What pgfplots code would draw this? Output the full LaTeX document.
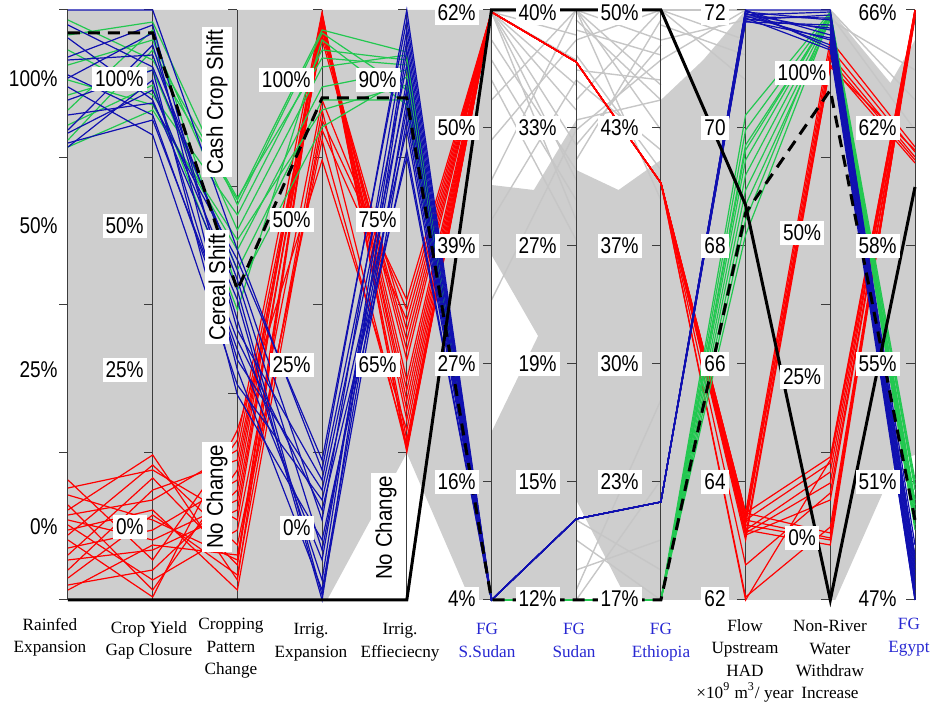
\documentclass[border=0pt]{standalone}
\usepackage{pgfplots}
\pgfplotsset{compat=1.18}
\usepackage{graphicx}
\usepackage{fontspec}
\setmainfont{Liberation Serif}
\newfontfamily\arialf{Liberation Sans}
\definecolor{bgray}{RGB}{206,206,206}
\definecolor{lgray}{RGB}{198,198,198}
\definecolor{pred}{RGB}{255,0,0}
\definecolor{pgreen}{RGB}{34,200,80}
\definecolor{pblue}{RGB}{16,16,176}
\definecolor{lblue}{RGB}{40,40,210}
\definecolor{axc}{RGB}{60,60,60}
\newcommand\tx[1]{\scalebox{1}[1.2]{#1}}
\newcommand\rx[1]{\scalebox{1.08}[1.2]{#1}}
\begin{document}
\begin{tikzpicture}[
  rl/.style={pred, line width=0.6pt},
  gl/.style={pgreen, line width=0.6pt},
  bl/.style={pblue, line width=0.6pt},
  gy/.style={lgray, line width=0.7pt},
  tk/.style={axc, line width=0.5pt},
  tl/.style={font=\arialf\fontsize{9.5}{11}\selectfont, fill=white, inner xsep=1.5pt, inner ysep=2pt, anchor=east},
  tc/.style={font=\arialf\fontsize{9.5}{11}\selectfont, fill=white, inner xsep=1.5pt, inner ysep=2pt},
  bt/.style={font=\fontsize{8.6}{11.2}\selectfont, align=center, anchor=north, inner sep=0pt},
]
\useasboundingbox (-34pt,-53pt) rectangle (432.5pt,300pt);
\begin{axis}[
  width=423.5pt, height=295pt, scale only axis,
  xmin=1, xmax=11, ymin=0, ymax=590,
  axis lines=none, clip=false,
]
% ---------- grey background of the many other solutions ----------
\addplot[fill=bgray, draw=none] coordinates {(1,0)(1,590)(5,590)(5,147)(4.06,0)};
\addplot[fill=bgray, draw=none] coordinates {(5,147)(5,590)(6,590)(6,0)(5.75,0)};
\addplot[fill=bgray, draw=none] coordinates {(6,0)(6,168)(6.55,264)(6,345)(6,415)(6.5,410)(7,480)(7,0)};
\addplot[fill=bgray, draw=none] coordinates {(7,100)(7,430)(7.5,410)(8,440)(8,0)(7.6,0)};
\addplot[fill=bgray, draw=none] coordinates {(8,0)(8,500)(8.5,540)(9,590)(9,0)};
\addplot[fill=bgray, draw=none] coordinates {(9,0)(9,590)(10,590)(10,0)};
\addplot[fill=bgray, draw=none] coordinates {(10,0)(10,590)(10.71,517)(11,560)(11,145)(10.79,140)(10.06,0)};
% grey lines in the sparse parts
\addplot[gy] coordinates {(6,588)(7,590)};
\addplot[gy] coordinates {(6,588)(7,565)};
\addplot[gy] coordinates {(6,588)(7,540)};
\addplot[gy] coordinates {(6,588)(7,515)};
\addplot[gy] coordinates {(6,588)(7,490)};
\addplot[gy] coordinates {(6,588)(7,455)};
\addplot[gy] coordinates {(6,588)(7,420)};
\addplot[gy] coordinates {(6,588)(7,380)};
\addplot[gy] coordinates {(6,560)(7,430)};
\addplot[gy] coordinates {(6,540)(7,400)};
\addplot[gy] coordinates {(6,500)(7,590)};
\addplot[gy] coordinates {(6,460)(7,560)};
\addplot[gy] coordinates {(6,420)(7,590)};
\addplot[gy] coordinates {(6,380)(7,520)};
\addplot[gy] coordinates {(6,300)(7,470)};
\addplot[gy] coordinates {(6,520)(7,360)};
\addplot[gy] coordinates {(7,590)(8,560)};
\addplot[gy] coordinates {(7,590)(8,470)};
\addplot[gy] coordinates {(7,560)(8,590)};
\addplot[gy] coordinates {(7,530)(8,520)};
\addplot[gy] coordinates {(7,500)(8,590)};
\addplot[gy] coordinates {(7,470)(8,540)};
\addplot[gy] coordinates {(7,440)(8,580)};
\addplot[gy] coordinates {(7,590)(8,400)};
\addplot[gy] coordinates {(7,520)(8,450)};
\addplot[gy] coordinates {(7,580)(8,500)};
\addplot[gy] coordinates {(7,545)(8,430)};
\addplot[gy] coordinates {(7,570)(8,545)};
\addplot[gy] coordinates {(7,480)(8,500)};
\addplot[gy] coordinates {(7,455)(8,555)};
\addplot[gy] coordinates {(7,590)(8,515)};
\addplot[gy] coordinates {(7,0)(8,120)};
\addplot[gy] coordinates {(7,30)(8,60)};
\addplot[gy] coordinates {(7,60)(8,0)};
\addplot[gy] coordinates {(7,10)(8,200)};
\addplot[gy] coordinates {(7,80)(8,30)};
\addplot[gy] coordinates {(8,590)(9,590)};
\addplot[gy] coordinates {(8,590)(9,560)};
\addplot[gy] coordinates {(8,560)(9,580)};
\addplot[gy] coordinates {(8,590)(9,520)};
\addplot[gy] coordinates {(8,540)(9,590)};
\addplot[gy] coordinates {(8,575)(9,545)};
\addplot[gy] coordinates {(10,590)(11,500)};
\addplot[gy] coordinates {(10,585)(11,470)};
\addplot[gy] coordinates {(10,580)(11,530)};
% ---------- axes ----------
\pgfplotsinvokeforeach{1,...,11}{\draw[tk] (axis cs:#1,0) -- (axis cs:#1,590);}
\pgfplotsinvokeforeach{1,2,4,5,10}{
  \draw[tk] (axis cs:#1,0) -- ++(-4.5pt,0pt) (axis cs:#1,147.5) -- ++(-4.5pt,0pt)
    (axis cs:#1,295) -- ++(-4.5pt,0pt) (axis cs:#1,442.5) -- ++(-4.5pt,0pt) (axis cs:#1,590) -- ++(-4.5pt,0pt);
}
\draw[tk] (axis cs:3,0) -- ++(-4.5pt,0pt) (axis cs:3,206) -- ++(-4.5pt,0pt)
  (axis cs:3,413) -- ++(-4.5pt,0pt) (axis cs:3,590) -- ++(-4.5pt,0pt);
\pgfplotsinvokeforeach{6,7,8,9,11}{
  \draw[tk] (axis cs:#1,0) -- ++(-4.5pt,0pt) (axis cs:#1,118) -- ++(-4.5pt,0pt)
    (axis cs:#1,236) -- ++(-4.5pt,0pt) (axis cs:#1,354) -- ++(-4.5pt,0pt)
    (axis cs:#1,472) -- ++(-4.5pt,0pt) (axis cs:#1,590) -- ++(-4.5pt,0pt);
}
% ---------- red solutions ----------
\addplot[rl] coordinates {(1,120)(2,40)(3,160)(4,588)(5,148)(6,588)(7,538)(8,417)(9,87)(10,143)(11,590)};
\addplot[rl] coordinates {(1,112)(2,130)(3,80)(4,585)(5,160)(6,588)(7,538)(8,417)(9,80)(10,137)(11,588)};
\addplot[rl] coordinates {(1,105)(2,80)(3,40)(4,580)(5,180)(6,588)(7,538)(8,417)(9,70)(10,128)(11,586)};
\addplot[rl] coordinates {(1,95)(2,10)(3,130)(4,575)(5,200)(6,588)(7,538)(8,417)(9,67)(10,117)(11,590)};
\addplot[rl] coordinates {(1,90)(2,145)(3,20)(4,582)(5,220)(6,588)(7,538)(8,417)(9,35)(10,107)(11,584)};
\addplot[rl] coordinates {(1,85)(2,100)(3,150)(4,570)(5,250)(6,588)(7,538)(8,417)(9,3)(10,73)(11,588)};
\addplot[rl] coordinates {(1,80)(2,60)(3,100)(4,565)(5,270)(6,588)(7,538)(8,417)(9,87)(10,67)(11,582)};
\addplot[rl] coordinates {(1,75)(2,20)(3,70)(4,500)(5,290)(6,588)(7,538)(8,417)(9,80)(10,62)(11,590)};
\addplot[rl] coordinates {(1,70)(2,90)(3,10)(4,480)(5,300)(6,588)(7,538)(8,417)(9,75)(10,60)(11,586)};
\addplot[rl] coordinates {(1,65)(2,135)(3,55)(4,460)(5,155)(6,588)(7,538)(8,417)(9,70)(10,55)(11,588)};
\addplot[rl] coordinates {(1,60)(2,3)(3,170)(4,440)(5,170)(6,588)(7,538)(8,417)(9,0)(10,140)(11,590)};
\addplot[rl] coordinates {(1,52)(2,70)(3,120)(4,586)(5,190)(6,588)(7,538)(8,417)(9,65)(10,100)(11,584)};
\addplot[rl] coordinates {(1,45)(2,122)(3,35)(4,578)(5,210)(6,588)(7,538)(8,417)(9,87)(10,560)(11,453)};
\addplot[rl] coordinates {(1,40)(2,50)(3,90)(4,572)(5,240)(6,588)(7,538)(8,417)(9,82)(10,552)(11,448)};
\addplot[rl] coordinates {(1,30)(2,110)(3,140)(4,560)(5,260)(6,588)(7,538)(8,417)(9,75)(10,545)(11,443)};
\addplot[rl] coordinates {(1,22)(2,85)(3,25)(4,490)(5,150)(6,588)(7,538)(8,417)(9,65)(10,540)(11,440)};
\addplot[rl] coordinates {(1,15)(2,30)(3,110)(4,584)(5,152)(6,588)(7,538)(8,417)(9,60)(10,535)(11,437)};
\addplot[rl] coordinates {(1,10)(2,55)(3,45)(4,470)(5,280)(6,588)(7,538)(8,417)(9,80)(10,533)(11,450)};
% ---------- green solutions ----------
\addplot[gl] coordinates {(1,580)(2,540)(3,400)(4,570)(5,548)(6,0)(7,0)(8,0)(9,485)(10,588)(11,120)};
\addplot[gl] coordinates {(1,565)(2,578)(3,395)(4,567)(5,510)(6,0)(7,0)(8,0)(9,470)(10,586)(11,110)};
\addplot[gl] coordinates {(1,550)(2,505)(3,385)(4,550)(5,540)(6,0)(7,0)(8,0)(9,455)(10,584)(11,100)};
\addplot[gl] coordinates {(1,535)(2,560)(3,370)(4,533)(5,545)(6,0)(7,0)(8,0)(9,440)(10,587)(11,90)};
\addplot[gl] coordinates {(1,520)(2,495)(3,350)(4,513)(5,530)(6,0)(7,0)(8,0)(9,425)(10,585)(11,80)};
\addplot[gl] coordinates {(1,505)(2,530)(3,330)(4,500)(5,500)(6,0)(7,0)(8,0)(9,410)(10,582)(11,75)};
\addplot[gl] coordinates {(1,490)(2,570)(3,310)(4,473)(5,523)(6,0)(7,0)(8,0)(9,395)(10,580)(11,115)};
\addplot[gl] coordinates {(1,475)(2,515)(3,290)(4,560)(5,495)(6,0)(7,0)(8,0)(9,380)(10,588)(11,95)};
\addplot[gl] coordinates {(1,460)(2,550)(3,402)(4,542)(5,535)(6,0)(7,0)(8,0)(9,365)(10,583)(11,85)};
\addplot[gl] coordinates {(1,453)(2,490)(3,360)(4,490)(5,515)(6,0)(7,0)(8,0)(9,450)(10,586)(11,70)};
% ---------- blue solutions ----------
\addplot[bl] coordinates {(1,590)(2,590)(3,350)(4,130)(5,590)(6,0)(7,81)(8,98)(9,590)(10,590)(11,40)};
\addplot[bl] coordinates {(1,575)(2,533)(3,330)(4,80)(5,570)(6,0)(7,81)(8,98)(9,588)(10,580)(11,30)};
\addplot[bl] coordinates {(1,562)(2,500)(3,300)(4,0)(5,550)(6,0)(7,81)(8,98)(9,586)(10,570)(11,20)};
\addplot[bl] coordinates {(1,543)(2,575)(3,270)(4,120)(5,535)(6,0)(7,81)(8,98)(9,584)(10,560)(11,10)};
\addplot[bl] coordinates {(1,525)(2,485)(3,250)(4,40)(5,520)(6,0)(7,81)(8,98)(9,582)(10,550)(11,0)};
\addplot[bl] coordinates {(1,522)(2,567)(3,230)(4,10)(5,500)(6,0)(7,81)(8,98)(9,580)(10,585)(11,35)};
\addplot[bl] coordinates {(1,513)(2,465)(3,215)(4,100)(5,470)(6,0)(7,81)(8,98)(9,578)(10,575)(11,25)};
\addplot[bl] coordinates {(1,500)(2,530)(3,205)(4,60)(5,450)(6,0)(7,81)(8,98)(9,589)(10,565)(11,15)};
\addplot[bl] coordinates {(1,485)(2,497)(3,340)(4,140)(5,580)(6,0)(7,81)(8,98)(9,587)(10,555)(11,5)};
\addplot[bl] coordinates {(1,470)(2,555)(3,280)(4,20)(5,560)(6,0)(7,81)(8,98)(9,585)(10,588)(11,2)};
\addplot[bl] coordinates {(1,467)(2,510)(3,310)(4,5)(5,480)(6,0)(7,81)(8,98)(9,583)(10,582)(11,55)};
\addplot[bl] coordinates {(1,457)(2,480)(3,260)(4,90)(5,443)(6,0)(7,81)(8,98)(9,581)(10,572)(11,45)};
\addplot[bl] coordinates {(1,453)(2,520)(3,240)(4,110)(5,510)(6,0)(7,81)(8,98)(9,579)(10,562)(11,0)};
\addplot[bl] coordinates {(1,540)(2,545)(3,320)(4,50)(5,490)(6,0)(7,81)(8,98)(9,590)(10,552)(11,10)};
% ---------- highlighted black solutions ----------
\addplot[black, line width=1.5pt, dash pattern=on 6pt off 4pt] coordinates {(1,567)(2,567)(3,310)(4,502)(5,502)(6,0)(7,0)(8,0)(9,387)(10,510)(11,80)};
\addplot[black, line width=1.5pt] coordinates {(1,0)(2,0)(3,0)(4,0)(5,0)(6,590)(7,590)(8,590)(9,395)(10,0)(11,413)};
% ---------- axis value labels ----------
\node[tl] at (axis cs:0.917,521) {\tx{100\%}};
\node[tl] at (axis cs:0.917,374) {\tx{50\%}};
\node[tl] at (axis cs:0.917,230) {\tx{25\%}};
\node[tl] at (axis cs:0.917,73) {\tx{0\%}};
\node[tl] at (axis cs:1.933,521) {\tx{100\%}};
\node[tl] at (axis cs:1.933,374) {\tx{50\%}};
\node[tl] at (axis cs:1.933,230) {\tx{25\%}};
\node[tl] at (axis cs:1.933,73) {\tx{0\%}};
\node[tc, rotate=90] at (axis cs:2.759,498) {\rx{Cash Crop Shift}};
\node[tc, rotate=90] at (axis cs:2.759,313) {\rx{Cereal Shift}};
\node[tc, rotate=90] at (axis cs:2.759,103) {\rx{No Change}};
\node[tl] at (axis cs:3.904,520) {\tx{100\%}};
\node[tl] at (axis cs:3.904,380) {\tx{50\%}};
\node[tl] at (axis cs:3.904,235) {\tx{25\%}};
\node[tl] at (axis cs:3.904,72) {\tx{0\%}};
\node[tl] at (axis cs:4.920,520) {\tx{90\%}};
\node[tl] at (axis cs:4.920,380) {\tx{75\%}};
\node[tl] at (axis cs:4.920,235) {\tx{65\%}};
\node[tc, rotate=90] at (axis cs:4.754,72) {\rx{No Change}};
\node[tl] at (axis cs:5.852,587) {\tx{62\%}};
\node[tl] at (axis cs:5.852,472) {\tx{50\%}};
\node[tl] at (axis cs:5.852,354) {\tx{39\%}};
\node[tl] at (axis cs:5.852,236) {\tx{27\%}};
\node[tl] at (axis cs:5.852,118) {\tx{16\%}};
\node[tl] at (axis cs:5.852,1) {\tx{4\%}};
\node[tl] at (axis cs:6.809,587) {\tx{40\%}};
\node[tl] at (axis cs:6.809,472) {\tx{33\%}};
\node[tl] at (axis cs:6.809,354) {\tx{27\%}};
\node[tl] at (axis cs:6.809,236) {\tx{19\%}};
\node[tl] at (axis cs:6.809,118) {\tx{15\%}};
\node[tl] at (axis cs:6.809,1) {\tx{12\%}};
\node[tl] at (axis cs:7.777,587) {\tx{50\%}};
\node[tl] at (axis cs:7.777,472) {\tx{43\%}};
\node[tl] at (axis cs:7.777,354) {\tx{37\%}};
\node[tl] at (axis cs:7.777,236) {\tx{30\%}};
\node[tl] at (axis cs:7.777,118) {\tx{23\%}};
\node[tl] at (axis cs:7.777,1) {\tx{17\%}};
\node[tl] at (axis cs:8.804,587) {\tx{72}};
\node[tl] at (axis cs:8.804,472) {\tx{70}};
\node[tl] at (axis cs:8.804,354) {\tx{68}};
\node[tl] at (axis cs:8.804,236) {\tx{66}};
\node[tl] at (axis cs:8.804,118) {\tx{64}};
\node[tl] at (axis cs:8.804,1) {\tx{62}};
\node[tc] at (axis cs:9.666,527) {\tx{100\%}};
\node[tc] at (axis cs:9.666,367) {\tx{50\%}};
\node[tc] at (axis cs:9.666,223) {\tx{25\%}};
\node[tc] at (axis cs:9.666,62) {\tx{0\%}};
\node[tl] at (axis cs:10.823,587) {\tx{66\%}};
\node[tl] at (axis cs:10.823,472) {\tx{62\%}};
\node[tl] at (axis cs:10.823,354) {\tx{58\%}};
\node[tl] at (axis cs:10.823,236) {\tx{55\%}};
\node[tl] at (axis cs:10.823,118) {\tx{51\%}};
\node[tl] at (axis cs:10.823,1) {\tx{47\%}};
% ---------- axis names ----------
\node[bt] at (axis cs:0.787,-18) {Rainfed\\Expansion};
\node[bt] at (axis cs:1.956,-21) {Crop Yield\\Gap Closure};
\node[bt] at (axis cs:2.924,-18) {Cropping\\Pattern\\Change};
\node[bt] at (axis cs:3.869,-23) {Irrig.\\Expansion};
\node[bt] at (axis cs:4.920,-23) {Irrig.\\Effieciecny};
\node[bt, text=lblue] at (axis cs:5.947,-23) {FG\\S.Sudan};
\node[bt, text=lblue] at (axis cs:6.974,-23) {FG\\Sudan};
\node[bt, text=lblue] at (axis cs:8.001,-23) {FG\\Ethiopia};
\node[bt] at (axis cs:8.993,-19) {Flow\\Upstream\\HAD\\×10\textsuperscript{9} m\textsuperscript{3}/ year};
\node[bt] at (axis cs:9.996,-20) {Non-River\\Water\\Withdraw\\Increase};
\node[bt, text=lblue] at (axis cs:10.929,-18) {FG\\Egypt};
\end{axis}
\end{tikzpicture}
\end{document}
